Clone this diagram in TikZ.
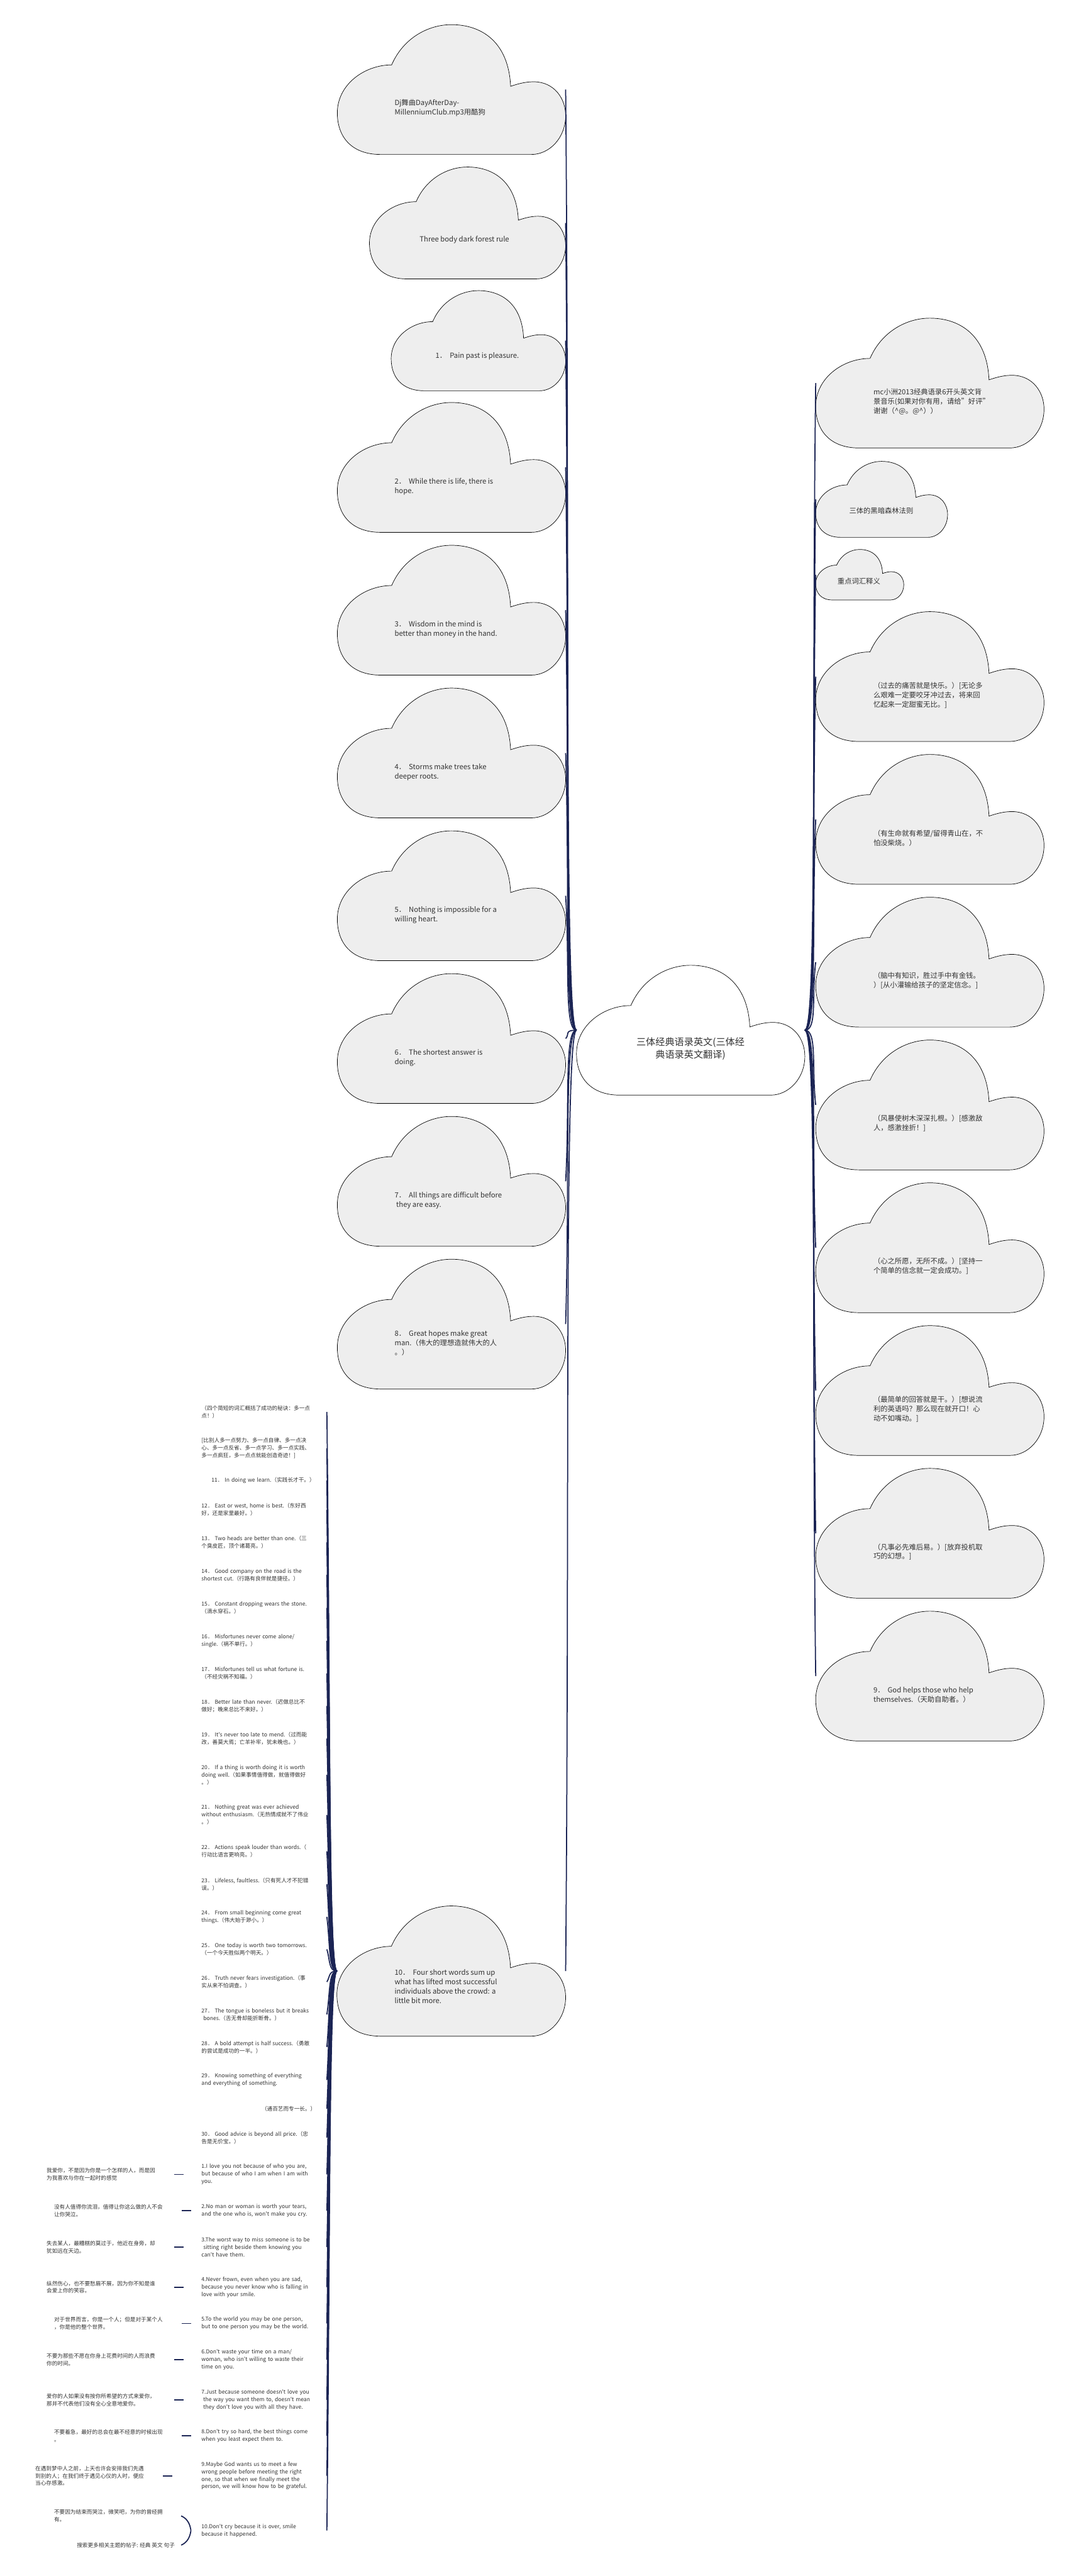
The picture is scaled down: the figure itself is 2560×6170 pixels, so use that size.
\documentclass[tikz,border=0pt]{standalone}
\usepackage{fontspec}
\setmainfont{Noto Sans CJK SC}
\usetikzlibrary{calc}

\definecolor{navy}{RGB}{27,36,84}
\definecolor{nebbia}{RGB}{238,238,238}
\definecolor{ink}{RGB}{51,51,51}

\begin{document}
\begin{tikzpicture}[
    x=0.02cm, y=-0.02cm,
    font=\fontsize{9.7}{12.8}\selectfont,
    puff/.style={draw=black, line width=0.6pt},
    hit/.style={inner sep=0pt, outer sep=0pt},
    txt/.style={anchor=west, align=left, inner sep=0pt, text=ink},
    entry/.style={anchor=east, align=left, inner sep=0pt, text=ink,
      text width=6cm, font=\fontsize{7.4}{10.2}\selectfont},
    zh/.style={entry, text width=5.6cm},
    br/.style={draw=navy, line width=1.5pt},
  ]

  \def\cw{547}   % larghezza delle nuvole
  \def\ch{311}   % altezza delle nuvole
  \def\dy{342}   % passo fra le nuvole
  \def\ap{\textquotesingle}

  % nuvola: nome, x, y (angolo in alto a sinistra), larghezza, altezza, fondo
  \def\nube#1#2#3#4#5#6{%
    \node[hit, minimum width=#4*0.02cm, minimum height=#5*0.02cm]
      (#1) at ({#2+#4/2},{#3+#5/2}) {};
    \filldraw[puff, fill=#6, shift={(#2,#3)}, xscale=#4, yscale=#5]
      (0.19,1) .. controls (0.06,1) and (0,0.86) .. (0,0.68)
      .. controls (0,0.46) and (0.12,0.31) .. (0.238,0.31)
      .. controls (0.29,0.10) and (0.40,0) .. (0.50,0)
      .. controls (0.63,0) and (0.75,0.13) .. (0.759,0.475)
      .. controls (0.80,0.45) and (0.83,0.44) .. (0.86,0.44)
      .. controls (0.95,0.44) and (1,0.57) .. (1,0.70)
      .. controls (1,0.87) and (0.93,1) .. (0.85,1) -- cycle;}

  \useasboundingbox (0,0) rectangle (2560,6170);
  \fill[white] (0,0) rectangle (2560,6170);

  % ---- la radice ------------------------------------------------------------
  \nube{root}{1381}{2312}{\cw}{\ch}{white}
  \node[align=center, inner sep=0pt, text=ink, font=\fontsize{13}{17}\selectfont]
    (titolo) at (1654,2512) {三体经典语录英文(三体经\\典语录英文翻译)};

  % ---- nuvole a sinistra ----------------------------------------------------
  \nube{a}{808}{59}{\cw}{\ch}{nebbia}
  \node[txt] (ta) at (945,259) {Dj舞曲DayAfterDay-\\MillenniumClub.mp3用酷狗};
  \nube{b}{885}{400}{470}{268}{nebbia}
  \node[txt] (tb) at (1005,575) {Three body dark forest rule};
  \nube{c}{937}{696}{418}{240}{nebbia}
  \node[txt] (tc) at (1043,853) {1．~~Pain past is pleasure.};
  \foreach \frase [count=\k] in {
      {2．~~While there is life, there is\\hope.},
      {3．~~Wisdom in the mind is\\better than money in the hand.},
      {4．~~Storms make trees take\\deeper roots.},
      {5．~~Nothing is impossible for a\\willing heart.},
      {6．~~The shortest answer is\\doing.},
      {7．~~All things are difficult before\\~they are easy.},
      {8．~~Great hopes make great\\man.（伟大的理想造就伟大的人\\。）}}{
    \pgfmathsetmacro\ty{964+(\k-1)*\dy}
    \nube{l\k}{808}{\ty}{\cw}{\ch}{nebbia}
    \node[txt] (tl\k) at (945,\ty+201) {\frase};
  }
  \nube{k}{807}{4565}{548}{312}{nebbia}
  \node[txt] (tk) at (945,4758) {10．~~Four short words sum up\\what has lifted most successful\\individuals above the crowd: a\\little bit more.};

  % ---- nuvole a destra ------------------------------------------------------
  \nube{r1}{1954}{762}{\cw}{\ch}{nebbia}
  \node[txt] (tr1) at (2092,962) {mc小洲2013经典语录6开头英文背\\景音乐(如果对你有用，请给"好评"\\谢谢（\textasciicircum@。@\textasciicircum））};
  \nube{r2}{1954}{1105}{316}{182}{nebbia}
  \node[txt] (tr2) at (2034,1223) {三体的黑暗森林法则};
  \nube{r3}{1954}{1316}{211}{121}{nebbia}
  \node[txt] (tr3) at (2006,1392) {重点词汇释义};
  \foreach \frase [count=\k from 4] in {
      {（过去的痛苦就是快乐。）[无论多\\么艰难一定要咬牙冲过去，将来回\\忆起来一定甜蜜无比。]},
      {（有生命就有希望/留得青山在，不\\怕没柴烧。）},
      {（脑中有知识，胜过手中有金钱。\\）[从小灌输给孩子的坚定信念。]},
      {（风暴使树木深深扎根。）[感激敌\\人，感激挫折！]},
      {（心之所愿，无所不成。）[坚持一\\个简单的信念就一定会成功。]},
      {（最简单的回答就是干。）[想说流\\利的英语吗？那么现在就开口！心\\动不如嘴动。]},
      {（凡事必先难后易。）[放弃投机取\\巧的幻想。]},
      {9．~~God helps those who help\\themselves.（天助自助者。）}}{
    \pgfmathsetmacro\ty{1465+(\k-4)*\dy}
    \nube{r\k}{1954}{\ty}{\cw}{\ch}{nebbia}
    \node[txt] (tr\k) at (2092,\ty+200) {\frase};
  }

  % ---- rami della radice ----------------------------------------------------
  \foreach \nm in {r1,r2,r3,r4,r5,r6,r7,r8,r9,r10,r11}
    \draw[br] (root.east) .. controls ($(root.east)+(30,0)$)
      and ($(\nm.west)!0.5!(\nm.west|-root.east)+(-10,0)$) .. (\nm.west);
  \foreach \nm in {a,b,c,l1,l2,l3,l4,l5,l6,l7,k}
    \draw[br] (root.west) .. controls ($(root.west)+(-30,0)$)
      and ($(\nm.east)!0.5!(\nm.east|-root.west)+(10,0)$) .. (\nm.east);

  % ---- le voci sotto la nuvola 10 -------------------------------------------
  \foreach \y/\frase [count=\k] in {
      3382/{（四个简短的词汇概括了成功的秘诀：多一点\\点！）},
      3469/{[比别人多一点努力、多一点自律、多一点决\\心、多一点反省、多一点学习、多一点实践、\\多一点疯狂，多一点点就能创造奇迹！]},
      3546/{\hspace*{0.48cm}11．~In doing we learn.（实践长才干。）},
      3616/{12．~East or west, home is best.（东好西\\好，还是家里最好。）},
      3694/{13．~Two heads are better than one.（三\\个臭皮匠，顶个诸葛亮。）},
      3772/{14．~Good company on the road is the\\shortest cut.（行路有良伴就是捷径。）},
      3851/{15．~Constant dropping wears the stone.\\（滴水穿石。）},
      3930/{16．~Misfortunes never come alone/\\single.（祸不单行。）},
      4008/{17．~Misfortunes tell us what fortune is.\\（不经灾祸不知福。）},
      4086/{18．~Better late than never.（迟做总比不\\做好；晚来总比不来好。）},
      4164/{19．~It\ap s never too late to mend.（过而能\\改，善莫大焉；亡羊补牢，犹未晚也。）},
      4251/{20．~If a thing is worth doing it is worth\\doing well.（如果事情值得做，就值得做好\\。）},
      4347/{21．~Nothing great was ever achieved\\without enthusiasm.（无热情成就不了伟业\\。）},
      4434/{22．~Actions speak louder than words.（\\行动比语言更响亮。）},
      4513/{23．~Lifeless, faultless.（只有死人才不犯错\\误。）},
      4591/{24．~From small beginning come great\\things.（伟大始于渺小。）},
      4669/{25．~One today is worth two tomorrows.\\（一个今天胜似两个明天。）},
      4747/{26．~Truth never fears investigation.（事\\实从来不怕调查。）},
      4825/{27．~The tongue is boneless but it breaks\\~bones.（舌无骨却能折断骨。）},
      4903/{28．~A bold attempt is half success.（勇敢\\的尝试是成功的一半。）},
      4982/{29．~Knowing something of everything\\and everything of something.},
      5051/{\hspace*{0pt plus 1fill}（通百艺而专一长。）\hspace*{0.52cm}},
      5120/{30．~Good advice is beyond all price.（忠\\告是无价宝。）}}
    \node[entry] (v\k) at (783,\y) {\frase};

  % ---- le frasi inglesi con la traduzione a sinistra ------------------------
  \foreach \y/\eng/\cin/\xc [count=\k] in {
      5208/{1.I love you not because of who you are,\\but because of who I am when I am with\\you.}/{我爱你，不是因为你是一个怎样的人，而是因\\为我喜欢与你在一起时的感觉}/392,
      5295/{2.No man or woman is worth your tears,\\and the one who is, won\ap t make you cry.}/{没有人值得你流泪，值得让你这么做的人不会\\让你哭泣。}/410,
      5382/{3.The worst way to miss someone is to be\\~sitting right beside them knowing you\\can\ap t have them.}/{失去某人，最糟糕的莫过于，他近在身旁，却\\犹如远在天边。}/392,
      5478/{4.Never frown, even when you are sad,\\because you never know who is falling in\\love with your smile.}/{纵然伤心，也不要愁眉不展，因为你不知是谁\\会爱上你的笑容。}/392,
      5565/{5.To the world you may be one person,\\but to one person you may be the world.}/{对于世界而言，你是一个人；但是对于某个人\\，你是他的整个世界。}/410,
      5652/{6.Don\ap t waste your time on a man/\\woman, who isn\ap t willing to waste their\\time on you.}/{不要为那些不愿在你身上花费时间的人而浪费\\你的时间。}/392,
      5748/{7.Just because someone doesn\ap t love you\\~the way you want them to, doesn\ap t mean\\~they don\ap t love you with all they have.}/{爱你的人如果没有按你所希望的方式来爱你，\\那并不代表他们没有全心全意地爱你。}/392,
      5834/{8.Don\ap t try so hard, the best things come\\when you least expect them to.}/{不要着急，最好的总会在最不经意的时候出现\\。}/410,
      5930/{9.Maybe God wants us to meet a few\\wrong people before meeting the right\\one, so that when we finally meet the\\person, we will know how to be grateful.}/{在遇到梦中人之前，上天也许会安排我们先遇\\到别的人；在我们终于遇见心仪的人时，便应\\当心存感激。}/365}{
    \node[entry] (e\k) at (783,\y) {\eng};
    \node[zh] (c\k) at (\xc,\y) {\cin};
    \pgfmathsetmacro\sh{(434-\xc)*0.02}
    \draw[br, shorten <=0.5cm, shorten >=\sh cm] (c\k.east) -- (e\k.west);
  }
  \node[entry] (e10) at (783,6061) {10.Don\ap t cry because it is over, smile\\because it happened.};
  \node[zh] (c10) at (410,6026) {不要因为结束而哭泣，微笑吧，为你的曾经拥\\有。};
  \node[anchor=east, inner sep=0pt, text=ink, font=\fontsize{7.4}{10.2}\selectfont]
    (c11) at (419,6096) {搜索更多相关主题的帖子: 经典 英文 句子};
  \coordinate (punta) at ($(e10.west)+(-25,0)$);
  \draw[br] (punta) .. controls ($(punta)+(-2,-14)$) and ($(c10.east)+(40,7)$) .. ($(c10.east)+(24,0)$);
  \draw[br] (punta) .. controls ($(punta)+(-2,14)$) and ($(c11.east)+(31,-7)$) .. ($(c11.east)+(15,0)$);

  % ---- rami della nuvola 10 -------------------------------------------------
  \foreach \i in {1,...,23}
    \draw[br] (k.west) .. controls ($(k.west)+(-20,0)$)
      and ($(v\i.east)!0.5!(v\i.east|-k.west)+(8,0)$) .. (v\i.east);
  \foreach \i in {1,...,10}
    \draw[br] (k.west) .. controls ($(k.west)+(-20,0)$)
      and ($(e\i.east)!0.5!(e\i.east|-k.west)+(8,0)$) .. (e\i.east);

\end{tikzpicture}
\end{document}
